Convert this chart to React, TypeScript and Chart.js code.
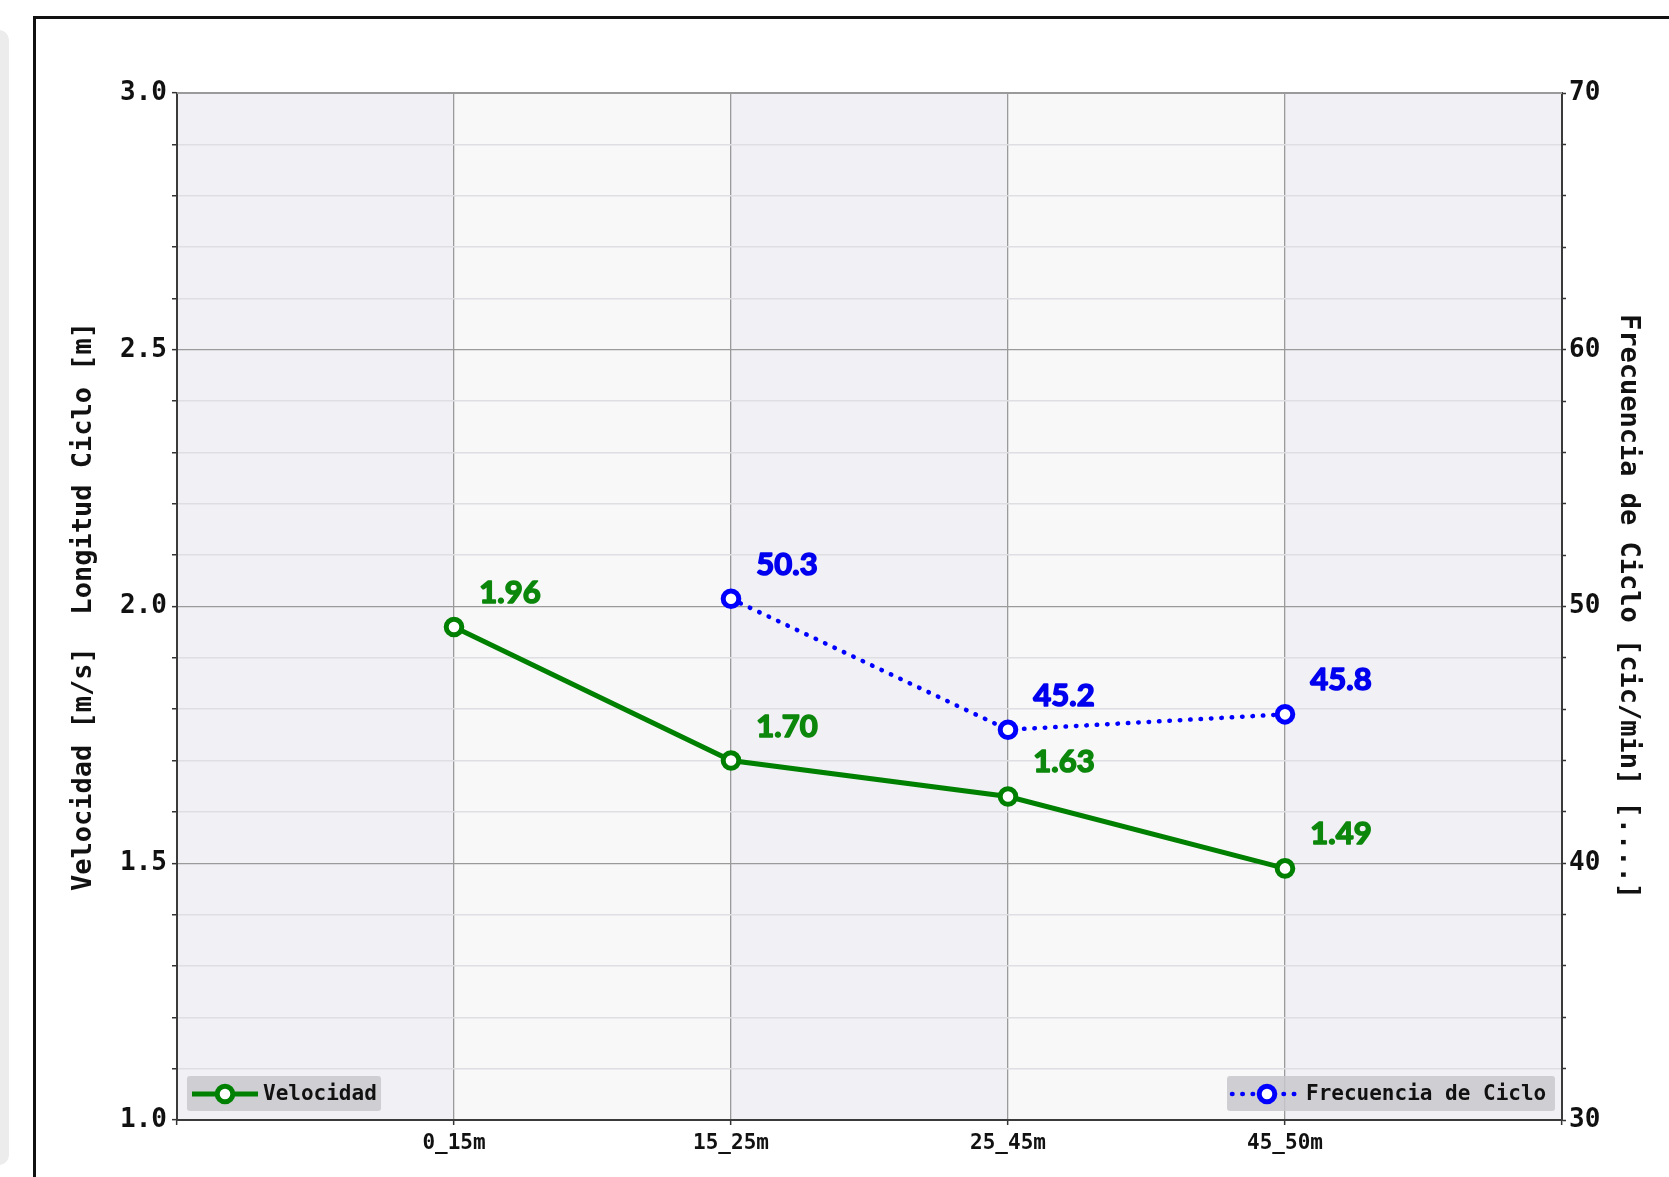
import React, { useEffect, useRef } from 'react';
import { Chart, registerables } from 'chart.js';

Chart.register(...registerables);

const categories = ['0_15m', '15_25m', '25_45m', '45_50m'];
const velocidad: (number | null)[] = [1.96, 1.7, 1.63, 1.49];
const frecuencia: (number | null)[] = [null, 50.3, 45.2, 45.8];
const leftMajorStep = 0.5;
const rightMajorStep = 10;

const MONO = "'DejaVu Sans Mono', 'Liberation Mono', monospace";
const GREEN = '#008000';
const BLUE = '#0000ff';

const isMultiple = (v: number, step: number) => {
  const r = v / step;
  return Math.abs(r - Math.round(r)) < 1e-6;
};

const labels = ['', ...categories, ''];

const framePlugin = {
  id: 'frame',
  beforeDraw(chart: any) {
    const { ctx, chartArea: a, width, height } = chart;
    const xs = chart.scales.x;
    ctx.save();
    ctx.fillStyle = '#ffffff';
    ctx.fillRect(0, 0, width, height);
    // left gray panel edge
    ctx.fillStyle = '#ececec';
    ctx.beginPath();
    (ctx as any).roundRect(-20, 30, 29, 1135, 10);
    ctx.fill();
    // outer frame
    ctx.strokeStyle = '#111';
    ctx.lineWidth = 3;
    ctx.beginPath();
    ctx.moveTo(34.5, height + 5);
    ctx.lineTo(34.5, 17.5);
    ctx.lineTo(width + 5, 17.5);
    ctx.stroke();
    // bands
    for (let i = 0; i < labels.length - 1; i++) {
      const x0 = xs.getPixelForValue(i);
      const x1 = xs.getPixelForValue(i + 1);
      ctx.fillStyle = i % 2 === 0 ? '#f0f0f5' : '#f8f8f8';
      ctx.fillRect(x0, a.top, x1 - x0, a.bottom - a.top);
    }
    ctx.restore();
  },
  afterDraw(chart: any) {
    const { ctx, chartArea: a } = chart;
    ctx.save();
    // top border
    ctx.strokeStyle = '#9a9a9a';
    ctx.lineWidth = 2;
    ctx.beginPath();
    ctx.moveTo(a.left, a.top);
    ctx.lineTo(a.right, a.top);
    ctx.stroke();

    const drawMarker = (x: number, y: number, color: string) => {
      ctx.beginPath();
      ctx.arc(x, y, 7.8, 0, Math.PI * 2);
      ctx.fillStyle = '#fff';
      ctx.fill();
      ctx.lineWidth = 5;
      ctx.strokeStyle = color;
      ctx.setLineDash([]);
      ctx.stroke();
    };
    const cy = a.bottom - 26;
    ctx.font = `bold 21px ${MONO}`;
    ctx.textBaseline = 'middle';
    ctx.textAlign = 'left';

    // left legend
    const lx = a.left + 10;
    ctx.fillStyle = 'rgba(200,200,204,0.85)';
    ctx.beginPath();
    (ctx as any).roundRect(lx, a.bottom - 44, 194, 35, 3);
    ctx.fill();
    ctx.strokeStyle = GREEN;
    ctx.lineWidth = 5;
    ctx.beginPath();
    ctx.moveTo(lx + 5, cy);
    ctx.lineTo(lx + 71, cy);
    ctx.stroke();
    drawMarker(lx + 38, cy, GREEN);
    ctx.fillStyle = '#111';
    ctx.fillText('Velocidad', lx + 76, cy + 1);

    // right legend
    const rx = a.right - 335;
    ctx.fillStyle = 'rgba(200,200,204,0.85)';
    ctx.beginPath();
    (ctx as any).roundRect(rx, a.bottom - 44, 328, 35, 3);
    ctx.fill();
    ctx.strokeStyle = BLUE;
    ctx.lineWidth = 4.5;
    ctx.lineCap = 'round';
    ctx.setLineDash([0.5, 9.8]);
    ctx.beginPath();
    ctx.moveTo(rx + 5, cy);
    ctx.lineTo(rx + 76, cy);
    ctx.stroke();
    ctx.setLineDash([]);
    drawMarker(rx + 40, cy, BLUE);
    ctx.fillStyle = '#111';
    ctx.fillText('Frecuencia de Ciclo', rx + 79, cy + 1);
    ctx.restore();
  },
  afterDatasetsDraw(chart: any) {
    const { ctx } = chart;
    ctx.save();
    ctx.font = "bold 31px Lato, 'Open Sans', sans-serif";
    ctx.textAlign = 'center';
    ctx.textBaseline = 'middle';
    ctx.lineJoin = 'round';
    chart.data.datasets.forEach((ds: any, di: number) => {
      const meta = chart.getDatasetMeta(di);
      meta.data.forEach((pt: any, i: number) => {
        const v = ds.data[i];
        if (v === null || v === undefined) return;
        const t = v.toFixed(ds.decimals);
        ctx.fillStyle = ds.labelColor;
        ctx.strokeStyle = ds.labelColor;
        ctx.lineWidth = 1.6;
        ctx.fillText(t, pt.x + 56, pt.y - 34);
        ctx.strokeText(t, pt.x + 56, pt.y - 34);
      });
    });
    ctx.restore();
  },
};

export default function App() {
  const ref = useRef<HTMLCanvasElement | null>(null);
  useEffect(() => {
    if (!ref.current) return;
    const chart = new Chart(ref.current, {
      type: 'line',
      data: {
        labels,
        datasets: [
          {
            label: 'Velocidad',
            data: [null, ...velocidad, null],
            yAxisID: 'y',
            borderColor: GREEN,
            borderWidth: 5,
            pointRadius: 7.8,
            pointHoverRadius: 7.8,
            pointBorderWidth: 5,
            pointBackgroundColor: '#ffffff',
            pointBorderColor: GREEN,
            labelColor: '#0c870c',
            decimals: 2,
          } as any,
          {
            label: 'Frecuencia de Ciclo',
            data: [null, ...frecuencia, null],
            yAxisID: 'y1',
            borderColor: BLUE,
            borderWidth: 4.5,
            borderDash: [0.5, 9.9],
            borderCapStyle: 'round',
            pointRadius: 7.8,
            pointHoverRadius: 7.8,
            pointBorderWidth: 5,
            pointBackgroundColor: '#ffffff',
            pointBorderColor: BLUE,
            labelColor: '#0000ee',
            decimals: 1,
          } as any,
        ],
      },
      options: {
        animation: false,
        responsive: false,
        layout: { padding: { top: 93, left: 0, right: 0, bottom: 0 } },
        plugins: { legend: { display: false }, tooltip: { enabled: false } },
        scales: {
          x: {
            type: 'category',
            offset: false,
            grid: {
              color: '#9a9a9a',
              lineWidth: 1.3,
              tickLength: 5,
              tickColor: '#333',
              tickWidth: 1.5,
            },
            border: { color: '#3a3a3a', width: 2 },
            ticks: {
              font: { family: MONO, size: 21, weight: 'bold' },
              color: '#111',
              padding: 6,
              autoSkip: false,
              maxRotation: 0,
            },
            afterFit: (s: any) => {
              s.height = 57;
            },
          },
          y: {
            position: 'left',
            min: 1,
            max: 3,
            ticks: {
              stepSize: 0.1,
              autoSkip: false,
              padding: 5,
              color: '#111',
              font: { family: MONO, size: 26, weight: 'bold' },
              callback: (v: any) => (isMultiple(Number(v), leftMajorStep) ? Number(v).toFixed(1) : ''),
            },
            grid: {
              color: (c: any) => (c.tick && isMultiple(c.tick.value, leftMajorStep) ? '#9a9a9a' : '#dedee3'),
              lineWidth: (c: any) => (c.tick && isMultiple(c.tick.value, leftMajorStep) ? 1.3 : 1.5),
              tickLength: 5,
              tickColor: '#333',
              tickWidth: 1.5,
            },
            border: { color: '#3a3a3a', width: 2 },
            title: {
              display: true,
              text: 'Velocidad [m/s]  Longitud Ciclo [m]',
              color: '#111',
              font: { family: MONO, size: 27, weight: 'bold', lineHeight: 1.2 },
              padding: { top: 68, bottom: 0 },
            },
            afterFit: (s: any) => {
              s.width = 177;
            },
          },
          y1: {
            position: 'right',
            min: 30,
            max: 70,
            ticks: {
              stepSize: 2,
              autoSkip: false,
              padding: 3,
              color: '#111',
              font: { family: MONO, size: 26, weight: 'bold' },
              callback: (v: any) => (isMultiple(Number(v), rightMajorStep) ? String(Math.round(Number(v))) : ''),
            },
            grid: {
              drawOnChartArea: false,
              tickLength: 4,
              tickColor: '#333',
              tickWidth: 1.5,
            },
            border: { color: '#3a3a3a', width: 2 },
            title: {
              display: true,
              text: 'Frecuencia de Ciclo [cic/min] [....]',
              color: '#111',
              font: { family: MONO, size: 27, weight: 'bold', lineHeight: 1.2 },
              padding: { top: 25, bottom: 0 },
            },
            afterFit: (s: any) => {
              s.width = 107;
            },
          },
        },
      } as any,
      plugins: [framePlugin],
    });
    return () => chart.destroy();
  }, []);

  return (
    <div style={{ position: 'absolute', left: 0, top: 0, width: 1669, height: 1177 }}>
      <canvas ref={ref} width={1669} height={1177} style={{ display: 'block' }} />
    </div>
  );
}
